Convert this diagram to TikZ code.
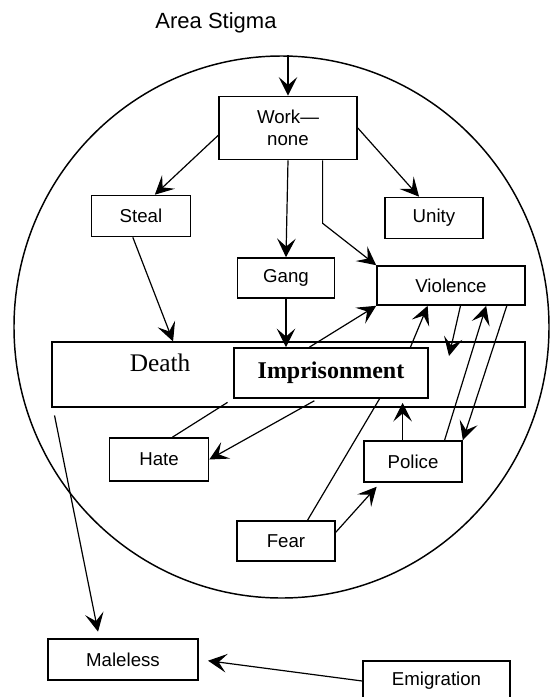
\documentclass[tikz,border=0pt]{standalone}
\usepackage{fontspec}
\setmainfont{Liberation Serif}
\setsansfont{Liberation Sans}
\usetikzlibrary{arrows.meta,shapes.geometric}

\begin{document}
\begin{tikzpicture}[x=0.75pt, y=-0.75pt, every node/.style={inner sep=0pt},
  box/.style={draw, line width=1.2pt, align=center, font=\sffamily\fontsize{14}{16.5}\selectfont},
  boxsize/.style 2 args={minimum width=#1*0.75pt, minimum height=#2*0.75pt},
  arr/.style={line width=0.9pt, -{Stealth[length=14pt, width=14pt, inset=6pt]}},
  link/.style={line width=0.9pt}]
  \useasboundingbox (0,0) rectangle (550,697);
  \node (stigma) at (216,23) {\sffamily\fontsize{16.5}{19}\selectfont Area Stigma};
  \node[ellipse, draw, line width=1.1pt, minimum width=535*0.75pt, minimum height=542*0.75pt] (area) at (281.5,327) {};
  \node[box, boxsize={138}{63}] (work) at (288,128) {Work—\\none};
  \node[box, boxsize={99}{41}] (steal) at (141,216) {Steal};
  \node[box, boxsize={98}{41}] (unity) at (434,218) {Unity};
  \node[box, boxsize={97}{40}] (gang) at (286,278) {Gang};
  \node[box, boxsize={148}{39}] (violence) at (451,285.5) {Violence};
  \node[draw, line width=0.9pt, boxsize={473}{65}] (bigbox) at (288.5,374.5) {};
  \node[font=\fontsize{19}{22}\selectfont] (death) at (160,363) {Death};
  \node[box, boxsize={194}{50}, font=\bfseries\fontsize{18}{21}\selectfont] (prison) at (331,373) {Imprisonment};
  \node[box, boxsize={99}{43}] (hate) at (159,459.5) {Hate};
  \node[box, boxsize={98}{41}] (police) at (413,461.5) {Police};
  \node[box, boxsize={98}{40}] (fear) at (286,541) {Fear};
  \node[box, boxsize={150}{41}] (maleless) at (123,659.5) {Maleless};
  \node[box, boxsize={147}{40}] (emigration) at (436.5,681) {Emigration};
  \coordinate (vtip) at (449,356);
  \draw[arr] (area.north -| work.north) -- (work.north);
  \draw[arr] (work.186) -- (steal.57);
  \draw[arr] (work.east) -- (unity.125);
  \draw[arr] (work.south) -- (gang.north);
  \draw[arr] (work.317) -- ++(0,63) -- (violence.north west);
  \draw[arr] (steal.249) -- (bigbox.164);
  \draw[arr] (gang.south) -- (gang.south |- prison.north);
  \draw[arr] (prison.130) -- (violence.south west);
  \draw[arr] (prison.18) -- (violence.221);
  \draw[arr] (violence.295) -- (vtip);
  \draw[arr] (police.34) -- (violence.330);
  \draw[arr] (violence.340) -- (police.north east);
  \draw[arr, shorten >=3pt] (police.116) -- (police.116 |- prison.south);
  \draw[arr, shorten >=4pt] (fear.10) -- (police.213);
  \draw[link] (fear.44) -- (prison.332);
  \draw[arr, shorten <=3pt] (prison.243) -- (hate.east);
  \draw[link, shorten >=5pt] (hate.59) -- (prison.south west);
  \draw[arr, shorten <=6pt, shorten >=5pt] (bigbox.188) -- (maleless.138);
  \draw[arr, shorten >=7pt] (emigration.west) -- (maleless.east);
\end{tikzpicture}
\end{document}
